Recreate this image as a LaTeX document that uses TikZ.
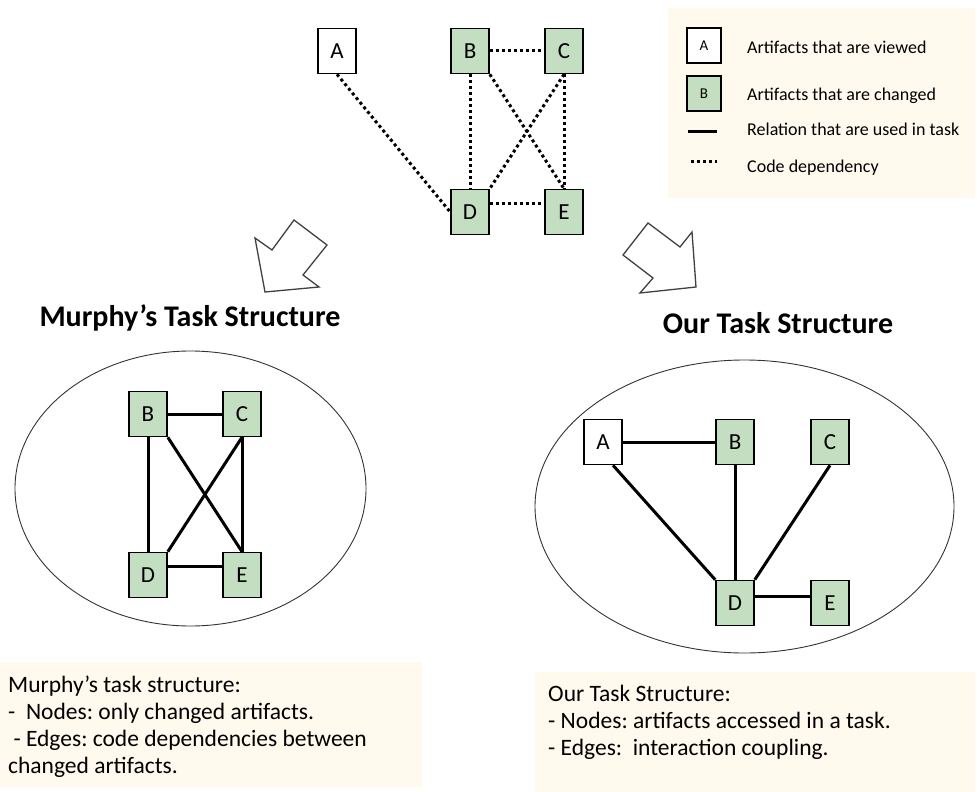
\documentclass[tikz,border=0pt]{standalone}
\usepackage{fontspec}
\setmainfont{Carlito}
\usepackage{tikz}
\usetikzlibrary{positioning}
\definecolor{changedgreen}{RGB}{195,222,192}
\definecolor{notecream}{RGB}{255,249,238}
\frenchspacing

\begin{document}
\begin{tikzpicture}[x=1pt,y=-1pt,
	artifact/.style={draw,line width=1.6pt,minimum width=38pt,minimum height=45pt,inner sep=0pt,font=\fontsize{23}{23}\selectfont},
	viewed/.style={artifact,fill=white},
	changed/.style={artifact,fill=changedgreen},
	keybox/.style={draw,line width=1.4pt,minimum width=34pt,minimum height=35pt,inner sep=0pt,font=\fontsize{15}{15}\selectfont},
	keytext/.style={anchor=base west,inner sep=0pt,font=\fontsize{18}{18}\selectfont},
	dep/.style={line width=3pt,dash pattern=on 3pt off 3pt},
	rel/.style={line width=3pt},
	heading/.style={anchor=base,inner sep=0pt,font=\bfseries\fontsize{30}{30}\selectfont},
	notetext/.style={anchor=base west,inner sep=0pt,align=left,font=\fontsize{23.5}{27}\selectfont},
	blockarrow/.style={draw=black!75,line width=1.3pt,fill=white,line join=miter}]
\useasboundingbox (0,0) rectangle (977,792);

% code dependencies between all artifacts
\node [viewed] (a) at (337,51) {A};
\node [changed] (b) at (470,51) {B};
\node [changed] (c) at (564,51) {C};
\node [changed] (d) at (470,212) {D};
\node [changed] (e) at (564,212) {E};
\draw [dep] (a.south) -- (d.west);
\draw [dep] (b) -- (c);
\draw [dep] (b) -- (d);
\draw [dep] (c) -- (e);
\draw [dep] (b.south east) -- (e.north);
\draw [dep] (c.south) -- (d.north east);
\draw [dep] ([yshift=9pt]d.east) -- ([yshift=9pt]e.west);

% legend
\fill [notecream] (668,8) rectangle (975,198);
\node [keybox,fill=white] (keyA) at (704,45.5) {A};
\node [keybox,fill=changedgreen] (keyB) at (704,93.5) {B};
\coordinate (relL) at (688,131);
\coordinate (relR) at (717,131);
\coordinate (depL) at (691,161);
\coordinate (depR) at (717,161);
\draw [rel] (relL) -- (relR);
\draw [dep] (depL) -- (depR);
\node [keytext] (tA) at (747,54) {Artifacts that are viewed};
\node [keytext] (tB) at (747,100) {Artifacts that are changed};
\node [keytext] (tRel) at (747,135) {Relation that are used in task};
\node [keytext] (tDep) at (747,172) {Code dependency};

% block arrows
\draw [blockarrow] (255,238) -- (272,250) -- (294,220) -- (327,245) -- (303,275) -- (319,287) -- (265,292) -- cycle;
\draw [blockarrow] (648,223) -- (680,247) -- (692,232) -- (696,287) -- (640,293) -- (653,278) -- (623,255) -- cycle;

% Murphy's structure
\node [heading] (mhead) at (190,326) {Murphy’s Task Structure};
\draw [black!80,line width=0.9pt] (190.5,488.5) ellipse [x radius=175.5,y radius=137.5];
\node [changed] (mb) at (148,414) {B};
\node [changed] (mc) at (242,414) {C};
\node [changed] (md) at (148,575) {D};
\node [changed] (me) at (242,575) {E};
\draw [rel] (mb) -- (mc);
\draw [rel] (mb) -- (md);
\draw [rel] (mc) -- (me);
\draw [rel] (mb.south east) -- (me.north);
\draw [rel] (mc.south) -- (md.north east);
\draw [rel] ([yshift=9pt]md.east) -- ([yshift=9pt]me.west);

% our structure
\node [heading] (ohead) at (778,333) {Our Task Structure};
\draw [black!80,line width=0.9pt] (744.5,506.5) ellipse [x radius=209.5,y radius=146.5];
\node [viewed] (oa) at (603,442) {A};
\node [changed] (ob) at (735,442) {B};
\node [changed] (oc) at (830,442) {C};
\node [changed] (od) at (735,603) {D};
\node [changed] (oe) at (830,603) {E};
\draw [rel] (oa) -- (ob);
\draw [rel] ([xshift=10pt]oa.south) -- (od.north west);
\draw [rel] (ob) -- (od);
\draw [rel] (oc.south) -- (od.north east);
\draw [rel] ([yshift=7pt]od.east) -- ([yshift=7pt]oe.west);

% notes (base anchor sits on the last line)
\fill [notecream] (0,662) rectangle (422,787);
\node [notetext] (mnote) at (8,773) {Murphy’s task structure:\\-~ Nodes: only changed artifacts.\\\ - Edges: code dependencies between\\changed artifacts.};
\fill [notecream] (535,672) rectangle (975,792);
\node [notetext] (onote) at (548,755) {Our Task Structure:\\- Nodes: artifacts accessed in a task.\\- Edges:~ interaction coupling.};
\end{tikzpicture}
\end{document}
